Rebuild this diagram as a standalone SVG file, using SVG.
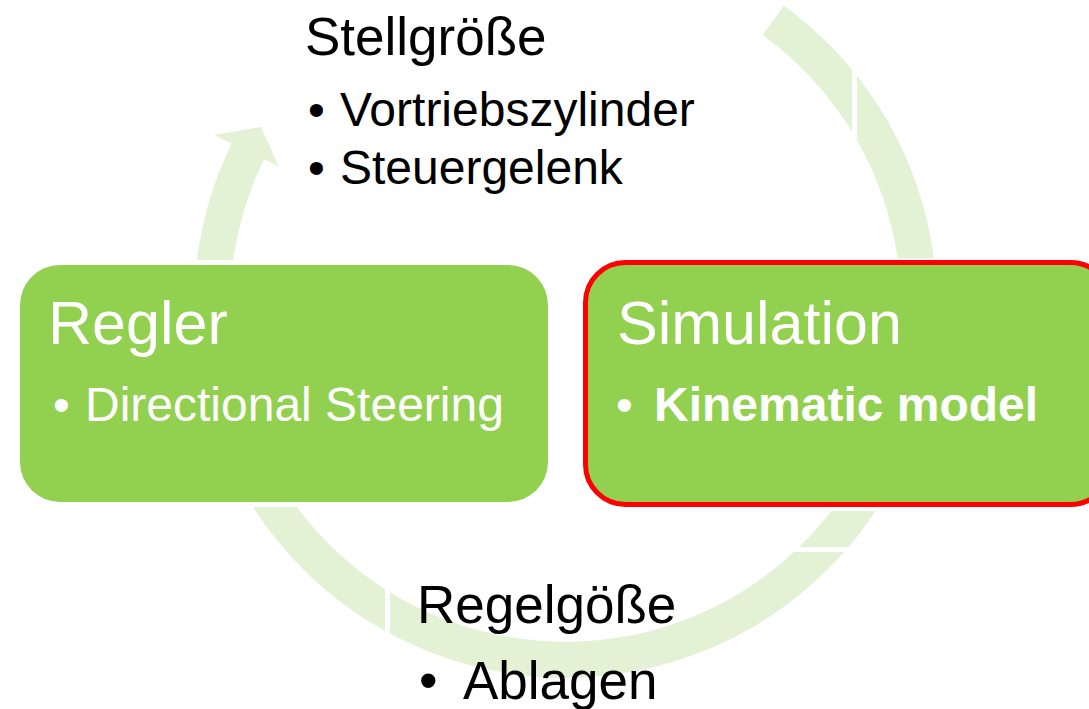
<svg xmlns="http://www.w3.org/2000/svg" width="1089" height="709" viewBox="0 0 1089 709">
  <style>
    .ring { fill: #E3F1D5; }
    .gap { fill: #FFFFFF; }
    .halo { fill: #FFFFFF; }
    .box { fill: #92D050; }
    .sel { stroke: #FF0000; stroke-width: 5; }
    .t { font-family: "Liberation Sans", Arial, sans-serif; }
    .dark { fill: #000000; }
    .light { fill: #FFFFFF; }
    .head { font-size: 53px; }
    .item { font-size: 48px; }
    .title { font-size: 61px; }
    .bold { font-weight: bold; }
  </style>

  <!-- cycle ring: one arc, clockwise from the top right round to the arrowhead at the upper left -->
  <g id="connectors">
    <path class="ring" d="M 783.9 5.7 A 371.5 371.5 0 1 1 231.6 143.4 L 214.1 134.9 L 260.9 126.9 L 278.8 166.4 L 264.0 159.2 A 335.5 335.5 0 1 0 762.7 34.9 Z"/>
    <!-- seams between the arc segments -->
    <rect class="gap" x="852" y="50" width="5" height="105"/>
    <rect class="gap" x="385" y="575" width="5" height="75"/>
    <rect class="gap" x="780" y="547" width="80" height="5"/>
  </g>

  <g id="node-regler">
    <rect class="halo" x="15" y="260" width="538" height="247" rx="45"/>
    <rect class="box" x="20" y="265" width="528" height="237" rx="40"/>
    <text class="t light title" x="48" y="344">Regler</text>
    <text class="t light item" x="53" y="421">•</text>
    <text class="t light item" x="85" y="421">Directional Steering</text>
  </g>

  <g id="node-simulation">
    <rect class="halo" x="581" y="258" width="534" height="253" rx="44"/>
    <rect class="box sel" x="585.5" y="262.5" width="525" height="242" rx="40"/>
    <text class="t light title" x="617" y="344">Simulation</text>
    <text class="t light item" x="616" y="421">•</text>
    <text class="t light item bold" x="654" y="421">Kinematic model</text>
  </g>

  <g id="label-stellgroesse">
    <text class="t dark head" x="305" y="55">Stellgröße</text>
    <text class="t dark item" x="308" y="126">•</text>
    <text class="t dark item" x="340" y="126">Vortriebszylinder</text>
    <text class="t dark item" x="308" y="184">•</text>
    <text class="t dark item" x="340" y="184">Steuergelenk</text>
  </g>

  <g id="label-regelgroesse">
    <text class="t dark head" x="417" y="623">Regelgöße</text>
    <text class="t dark head" x="419" y="699">•</text>
    <text class="t dark head" x="463" y="699">Ablagen</text>
  </g>
</svg>
